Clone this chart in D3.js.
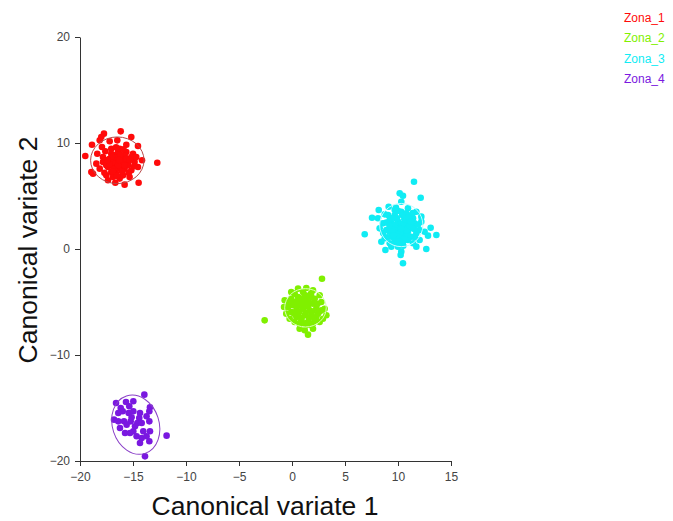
<!DOCTYPE html>
<html>
<head>
<meta charset="utf-8">
<script src="https://cdn.jsdelivr.net/npm/d3@7"></script>
<style>
  html, body { margin: 0; padding: 0; background: #fff; }
  svg { display: block; font-family: Arial, "Liberation Sans", sans-serif; }
</style>
</head>
<body>
<svg id="chart" width="673" height="521"></svg>
<script>
// ---- Data ----
const zones = ["Zona_1", "Zona_2", "Zona_3", "Zona_4"];
const zoneColors = ["#ff0a0a", "#80f000", "#10ecf4", "#7a18e0"];
const ellipseColors = ["#b84848", "#d8ffb8", "#c0fbff", "#8a40c8"];

const xTicks = [-20, -15, -10, -5, 0, 5, 10, 15];
const yTicks = [-20, -10, 0, 10, 20];

const zona1 = [
  [-16.16,11.1],[-15.16,10.57],[-17.74,10.88],[-17.99,10.57],[-18.14,10.25],[-18.87,9.84],
  [-17.2,10.16],[-16.48,10.25],[-15.63,9.84],[-14.53,9.72],[-19.5,8.77],[-18.37,8.99],
  [-17.61,9.22],[-17.05,9.46],[-16.26,9.46],[-15.63,9.15],[-15.0,8.99],[-14.15,8.37],
  [-12.71,8.14],[-18.46,8.05],[-17.83,8.21],[-17.2,8.52],[-16.73,8.84],[-16.42,8.37],
  [-15.94,8.52],[-15.47,8.21],[-14.85,8.21],[-14.53,7.74],[-18.93,7.26],[-18.14,7.58],
  [-17.36,7.74],[-16.79,7.9],[-16.26,7.74],[-15.79,7.58],[-15.16,7.42],[-17.52,6.95],
  [-17.05,7.26],[-16.58,7.1],[-15.94,6.95],[-15.32,6.79],[-17.36,6.48],[-16.67,6.25],
  [-15.79,6.07],[-14.47,6.25],[-16.89,8.21],[-16.1,8.05],[-16.58,7.58],[-17.05,8.99],
  [-15.79,8.84],[-16.42,9.15],[-17.52,7.9],[-15.47,7.9],[-15.16,8.68],[-17.83,8.68],
  [-16.26,6.64],[-16.89,6.79],[-18.77,7.1],[-17.93,9.62],[-14.69,8.68],[-16.1,7.42],
  [-16.6,8.6],[-16.2,8.9],[-15.9,8.2],[-16.8,7.6],[-17.2,8.0],[-16.0,7.3],[-15.6,8.5],
  [-17.0,8.7],[-16.4,7.9],[-15.8,7.9],[-16.3,8.4],[-16.9,7.3],[-15.4,7.2],[-17.4,8.4],
  [-16.6,9.6],[-15.9,9.4],[-15.3,8.4],[-16.5,6.9],[-17.7,7.2],[-14.9,7.8]
];
const zona2 = [
  [2.83,-2.8],[-2.58,-6.73],[-0.07,-4.06],[0.57,-3.74],[1.35,-3.68],[1.98,-3.9],
  [2.61,-4.37],[-0.69,-4.84],[-0.75,-5.47],[-0.07,-4.69],[0.57,-4.53],[1.2,-4.37],
  [1.82,-4.53],[2.77,-5.0],[3.08,-5.63],[3.24,-6.25],[-0.54,-6.1],[-0.22,-6.58],
  [0.25,-6.89],[0.72,-7.52],[1.2,-7.67],[1.51,-8.08],[1.98,-7.52],[2.61,-6.89],
  [2.92,-6.58],[0.09,-5.31],[0.72,-5.16],[1.35,-5.0],[1.98,-5.16],[2.29,-5.63],
  [0.41,-5.79],[1.04,-5.63],[1.67,-5.79],[-0.07,-5.94],[0.57,-6.25],[1.2,-6.25],
  [1.82,-6.25],[2.45,-6.1],[0.88,-6.73],[1.51,-6.89],[2.14,-6.73],[1.82,-7.2],
  [0.25,-5.0],[0.88,-4.69],[1.51,-4.53],[-0.38,-5.47],[2.77,-5.79],[1.35,-7.2],
  [0.72,-7.05],[0.41,-6.42],[2.14,-4.69],[1.04,-4.06],[0.25,-4.21],
  [1.0,-5.2],[1.5,-5.4],[0.7,-5.9],[1.3,-6.0],[1.9,-5.9],[0.5,-5.4],[1.1,-4.8],
  [1.7,-5.1],[0.9,-6.5],[1.6,-6.5],[2.3,-6.4],[2.4,-5.2],[0.2,-6.1],[1.3,-4.4],
  [0.6,-4.9],[2.0,-7.0],[1.1,-7.0],[2.6,-5.9],[-0.3,-5.0],[1.8,-4.2]
];
const zona3 = [
  [11.51,6.35],[10.16,5.25],[10.47,5.03],[12.14,4.84],[10.31,4.46],[9.12,3.99],
  [8.18,3.68],[7.55,2.95],[6.86,1.39],[8.75,3.27],[9.69,3.68],[10.94,3.84],
  [11.73,3.52],[8.58,2.42],[9.22,2.74],[9.84,2.9],[10.63,3.05],[11.42,2.9],
  [12.2,2.58],[8.9,1.79],[9.53,2.1],[10.16,2.26],[10.78,2.1],[11.42,1.95],
  [12.04,1.79],[13.08,2.01],[13.62,1.32],[12.83,1.26],[8.75,1.01],[9.37,1.16],
  [10.0,1.32],[10.63,1.39],[11.26,1.16],[12.04,0.85],[9.22,0.54],[9.84,0.54],
  [10.47,0.69],[11.42,0.54],[8.81,-0.09],[10.31,-0.25],[10.25,-0.57],[12.67,0.0],
  [10.47,-1.35],[9.69,3.21],[10.31,3.52],[10.0,2.58],[10.94,2.58],[9.37,2.42],
  [10.47,1.79],[9.84,1.63],[10.94,1.63],[9.22,1.63],[11.73,1.48],[10.31,1.01],
  [9.69,0.85],[10.94,0.85],[10.78,3.36],[11.26,3.21],[9.06,3.21],[11.57,2.42],
  [8.27,1.95],[8.11,2.9],[12.51,1.63],[11.73,0.22],[10.0,0.22],[9.37,0.22],
  [12.2,3.05],[8.43,0.69],
  [10.0,2.0],[10.5,2.4],[10.8,1.8],[9.7,2.3],[10.2,1.5],[10.6,2.8],[9.9,2.9],
  [11.1,2.2],[9.5,1.8],[10.3,1.9],[10.9,1.2],[9.9,1.2],[11.0,3.0],[9.4,2.9],
  [10.4,3.2],[10.7,0.9],[9.6,1.3],[11.5,1.9],[8.9,2.5],[10.1,0.7],[11.2,2.6],
  [9.2,2.2],[10.0,3.6],[11.6,1.1],[8.6,1.5],[10.5,0.3],[11.9,2.3],[9.0,1.1],
  [11.4,3.4],[9.8,3.9]
];
const zona4 = [
  [-13.93,-13.74],[-15.66,-14.43],[-14.97,-14.37],[-16.16,-15.0],[-15.97,-15.31],
  [-15.41,-15.47],[-14.97,-15.31],[-13.4,-14.94],[-13.46,-15.31],[-16.79,-16.1],
  [-16.39,-16.26],[-15.85,-16.26],[-15.22,-16.26],[-14.41,-15.94],[-14.59,-16.42],
  [-14.18,-16.42],[-14.81,-16.73],[-13.46,-16.26],[-15.6,-16.57],[-14.97,-17.2],
  [-14.03,-17.2],[-13.4,-17.2],[-15.75,-17.36],[-14.66,-17.67],[-14.18,-17.83],
  [-13.46,-18.14],[-11.83,-17.61],[-13.87,-19.56],[-16.39,-15.47],[-15.35,-14.84],
  [-14.34,-15.47],[-15.13,-15.88],[-13.72,-15.78],[-16.23,-16.89],[-15.28,-17.36],
  [-13.72,-17.67],[-14.34,-18.3],[-16.6,-14.53]
];
const zonePoints = [zona1, zona2, zona3, zona4];

// ellipse: centre x, centre y, semi-axis x, semi-axis y, rotation (deg)
const ellipseCx = [-16.48, 1.27, 10.31, -14.74];
const ellipseCy = [8.37, -5.55, 2.26, -16.57];
const ellipseRx = [2.52, 1.96, 2.04, 2.2];
const ellipseRy = [2.2, 1.81, 2.04, 2.85];
const ellipseRot = [0, 0, 0, -18];

// ---- Chart ----
const svg = d3.select("#chart");
const x = d3.scaleLinear().domain([-20, 15]).range([80, 451]);
const y = d3.scaleLinear().domain([-20, 20]).range([461, 37]);

const axisColor = "#333";

const gx = svg.append("g").attr("transform", `translate(0,${y(-20)})`)
  .call(d3.axisBottom(x).tickValues(xTicks).tickSize(5).tickSizeOuter(0).tickPadding(6));
const gy = svg.append("g").attr("transform", `translate(${x(-20)},0)`)
  .call(d3.axisLeft(y).tickValues(yTicks).tickSize(5).tickSizeOuter(0).tickPadding(5));
[gx, gy].forEach(g => {
  g.select(".domain").attr("stroke", axisColor);
  g.selectAll(".tick line").attr("stroke", axisColor);
  g.selectAll(".tick text").attr("fill", "#444").style("font-size", "12px")
    .style("font-family", "Arial, 'Liberation Sans', sans-serif");
});

// points
zonePoints.forEach((pts, i) => {
  svg.append("g").selectAll("circle").data(pts).join("circle")
    .attr("cx", d => x(d[0])).attr("cy", d => y(d[1])).attr("r", 3.3)
    .attr("fill", zoneColors[i]);
});

// ellipses
zones.forEach((z, i) => {
  const cx = x(ellipseCx[i]), cy = y(ellipseCy[i]);
  svg.append("ellipse")
    .attr("cx", 0).attr("cy", 0)
    .attr("rx", x(ellipseCx[i] + ellipseRx[i]) - cx)
    .attr("ry", cy - y(ellipseCy[i] + ellipseRy[i]))
    .attr("transform", `translate(${cx},${cy}) rotate(${ellipseRot[i]})`)
    .attr("fill", "none").attr("stroke", ellipseColors[i]).attr("stroke-width", 1);
});

// axis titles
svg.append("text").attr("x", 265).attr("y", 515).attr("text-anchor", "middle")
  .style("font-size", "26.5px").attr("fill", "#111").text("Canonical variate 1");
svg.append("text").attr("transform", "translate(37,250) rotate(-90)").attr("text-anchor", "middle")
  .style("font-size", "26.5px").attr("fill", "#111").text("Canonical variate 2");

// legend
const legend = svg.append("g");
zones.forEach((z, i) => {
  legend.append("text").attr("x", 624).attr("y", 22 + i * 20.3)
    .style("font-size", "12px").attr("fill", zoneColors[i]).text(z);
});
</script>
</body>
</html>
